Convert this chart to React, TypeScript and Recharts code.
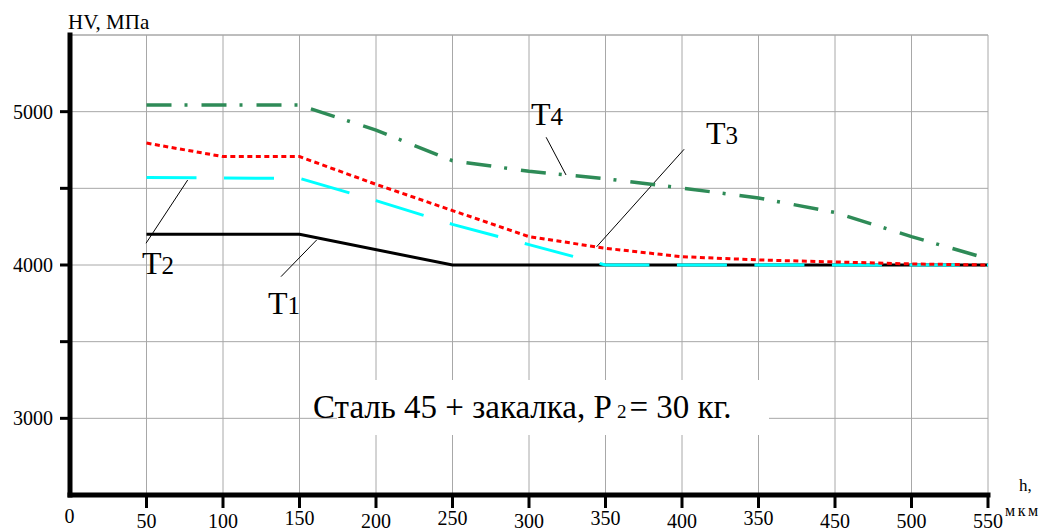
import { LineChart, Line, XAxis, YAxis, CartesianGrid, ReferenceLine } from "recharts";

// depth h, мкм  /  HV, МПа
const t1H = [50, 150, 250, 600];
const t1HV = [4200, 4200, 4000, 4000];

const t2H = [50, 150, 200, 250, 300, 350, 600];
const t2HV = [4570, 4565, 4420, 4265, 4133, 4000, 4000];

const t3H = [50, 100, 150, 200, 250, 300, 350, 400, 450, 500, 550, 600];
const t3HV = [4795, 4707, 4707, 4526, 4355, 4185, 4109, 4054, 4033, 4020, 4007, 4000];

const t4H = [50, 150, 200, 250, 300, 350, 400, 450, 500, 550, 600];
const t4HV = [5043, 5043, 4880, 4680, 4611, 4563, 4502, 4437, 4343, 4185, 4040];

const xTicks = [50, 100, 150, 200, 250, 300, 350, 400, 450, 500, 550, 600];
// labels as printed on the original (including its repeated "350")
const xTickLabels = ["50", "100", "150", "200", "250", "300", "350", "400", "350", "450", "500", "550"];
const yTicks = [3000, 3500, 4000, 4500, 5000];

const toRows = (h: number[], hv: number[]) => h.map((x, i) => ({ h: x, hv: hv[i] }));
const t1 = toRows(t1H, t1HV);
const t2 = toRows(t2H, t2HV);
const t3 = toRows(t3H, t3HV);
const t4 = toRows(t4H, t4HV);

// leader lines from labels to curves, in data units
const pointers = [
  [{ x: 76.9, y: 4554 }, { x: 49.7, y: 4142 }],
  [{ x: 161.2, y: 4163 }, { x: 137.9, y: 3924 }],
  [{ x: 311.2, y: 4833 }, { x: 324.2, y: 4587 }],
  [{ x: 401.4, y: 4755 }, { x: 344.2, y: 4119 }],
];

const FONT = "Liberation Serif";
const raised = new Set([2, 4, 6, 8]);

const XTick = (props: any) => {
  const { x, y, index } = props;
  return (
    <text x={x} y={y} dy={raised.has(index) ? 17 : 20} textAnchor="middle" fontSize={20} fontFamily={FONT} fill="#000">
      {xTickLabels[index]}
    </text>
  );
};

const YTick = (props: any) => {
  const { x, y, payload } = props;
  if (payload.value % 1000 !== 0) return <g />;
  return (
    <text x={x} y={y} dy={7} textAnchor="end" fontSize={20} fontFamily={FONT} fill="#000">
      {payload.value}
    </text>
  );
};

const TLabel = ({ x, y, n }: { x: number; y: number; n: string }) => (
  <text x={x} y={y} fontFamily={FONT} fill="#000">
    <tspan fontSize={32}>T</tspan>
    <tspan fontSize={25}>{n}</tspan>
  </text>
);

export default function App() {
  return (
    <div style={{ position: "absolute", left: 0, top: 0, width: 1047, height: 532, background: "#fff" }}>
      <LineChart width={1047} height={532} data={t1} margin={{ top: 35, right: 59, bottom: 0, left: 0 }}>
        <CartesianGrid stroke="#a8a8a8" strokeWidth={1} />
        <ReferenceLine y={5500} stroke="#a8a8a8" />
        <XAxis
          dataKey="h"
          type="number"
          domain={[0, 600]}
          ticks={xTicks}
          interval={0}
          height={37}
          tickSize={13}
          tickMargin={0}
          tick={XTick}
          axisLine={{ stroke: "#000", strokeWidth: 5, strokeLinecap: "square" }}
          tickLine={{ stroke: "#000", strokeWidth: 3 }}
        />
        <YAxis
          type="number"
          domain={[2500, 5500]}
          ticks={yTicks}
          interval={0}
          width={70}
          tickSize={10}
          tickMargin={7}
          tick={YTick}
          axisLine={{ stroke: "#000", strokeWidth: 5, strokeLinecap: "square" }}
          tickLine={{ stroke: "#000", strokeWidth: 3 }}
        />
        {pointers.map((seg, i) => (
          <ReferenceLine key={i} segment={seg} stroke="#000" strokeWidth={1} />
        ))}
        <Line data={t1} dataKey="hv" type="linear" stroke="#000" strokeWidth={3} dot={false} isAnimationActive={false} />
        <Line data={t2} dataKey="hv" type="linear" stroke="#00ffff" strokeWidth={3} strokeDasharray="50 27.5" dot={false} isAnimationActive={false} />
        <Line data={t3} dataKey="hv" type="linear" stroke="#ff0000" strokeWidth={3} strokeDasharray="5 3.5" dot={false} isAnimationActive={false} />
        <Line data={t4} dataKey="hv" type="linear" stroke="#2e8b57" strokeWidth={3.5} strokeDasharray="25 13 3 14" dot={false} isAnimationActive={false} />
      </LineChart>

      <svg width={1047} height={532} style={{ position: "absolute", left: 0, top: 0, pointerEvents: "none" }}>
        <text x={68} y={29} fontSize={21} fontFamily={FONT} fill="#000">HV, МПа</text>
        <text x={69.5} y={523} fontSize={20} fontFamily={FONT} textAnchor="middle" fill="#000">0</text>
        <text x={1019} y={491} fontSize={17} fontFamily={FONT} fill="#000">h,</text>
        <text x={1005} y={516} fontSize={16} fontFamily={FONT} letterSpacing={2.5} fill="#000">мкм</text>

        <TLabel x={142} y={274} n="2" />
        <TLabel x={268} y={314} n="1" />
        <TLabel x={531} y={125} n="4" />
        <TLabel x={706} y={144} n="3" />

        <rect x={337} y={380} width={432} height={55} fill="#fff" />
        <text x={313} y={418} fontFamily={FONT} fill="#000">
          <tspan fontSize={33}>Сталь 45 + закалка, P</tspan>
          <tspan fontSize={19} dx={5}>2</tspan>
          <tspan fontSize={33} dx={3}>= 30 кг.</tspan>
        </text>
      </svg>
    </div>
  );
}
